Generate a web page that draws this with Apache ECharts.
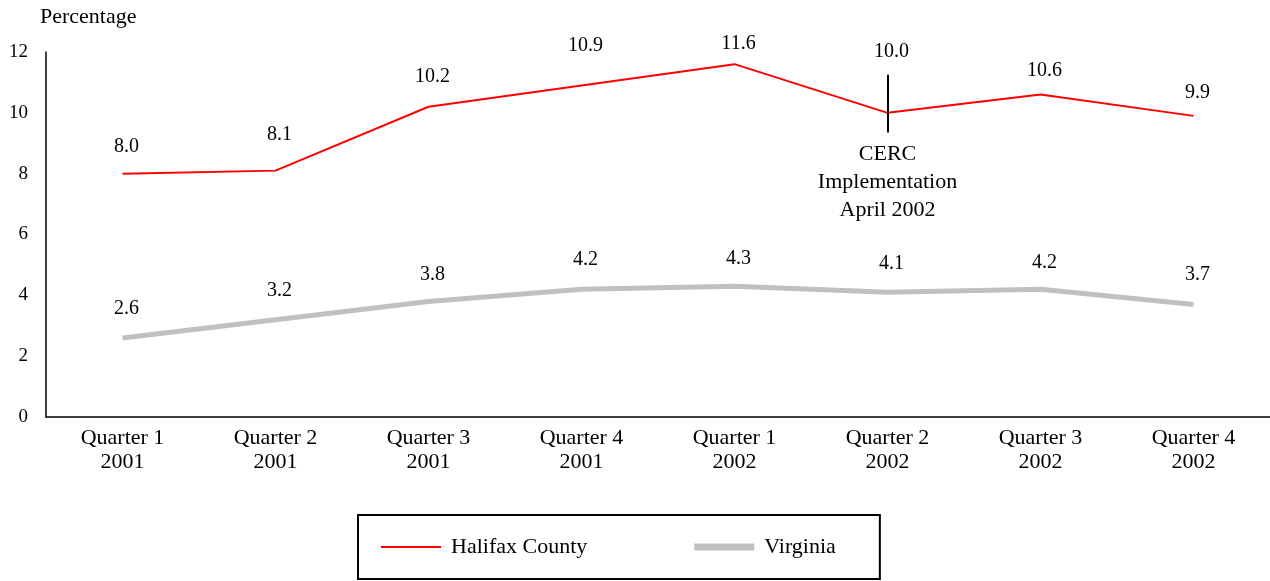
<!DOCTYPE html>
<html><head><meta charset="utf-8">
<script src="https://cdn.jsdelivr.net/npm/echarts@6/dist/echarts.min.js"></script>
<style>html,body{margin:0;padding:0;background:#fff}#c{width:1270px;height:581px}</style>
</head><body><div id="c"></div>
<script>
const categories = ['Quarter 1\n2001','Quarter 2\n2001','Quarter 3\n2001','Quarter 4\n2001','Quarter 1\n2002','Quarter 2\n2002','Quarter 3\n2002','Quarter 4\n2002'];
const halifax = [8.0, 8.1, 10.2, 10.9, 11.6, 10.0, 10.6, 9.9];
const virginia = [2.6, 3.2, 3.8, 4.2, 4.3, 4.1, 4.2, 3.7];
const yTicks = {min: 0, max: 12, interval: 2};
const cercIndex = 5;
const cercRange = [11.25, 9.35];
const cercText = 'CERC\nImplementation\nApril 2002';

// label placement (style only)
const halifaxGap = [17, 26, 20, 30, 10, 51, 14, 13];
const virginiaGap = [19, 19, 17, 19, 17, 19, 16, 20];

const F = '"Liberation Serif","Times New Roman",serif';
const chart = echarts.init(document.getElementById('c'));
const labelBase = {show: true, position: 'top', color: '#000', fontFamily: F, fontSize: 20, formatter: p => p.value.toFixed(1), offset: [4, 0]};
const withGaps = (arr, gaps) => arr.map((v, i) => ({value: v, label: {distance: gaps[i]}}));
chart.setOption({
  animation: false,
  grid: {left: 46, right: 0, top: 52, bottom: 164, outerBoundsMode: 'none', containLabel: false},
  xAxis: {
    type: 'category', data: categories, boundaryGap: true,
    axisLine: {lineStyle: {color: '#000', width: 1.5}},
    axisTick: {show: false},
    axisLabel: {color: '#000', fontFamily: F, fontSize: 22, lineHeight: 24, margin: 9, interval: 0}
  },
  yAxis: {
    type: 'value', min: yTicks.min, max: yTicks.max, interval: yTicks.interval,
    name: 'Percentage', nameLocation: 'end', nameGap: 24,
    nameTextStyle: {color: '#000', fontFamily: F, fontSize: 22, align: 'left', padding: [0, 0, 0, -6]},
    axisLine: {show: true, lineStyle: {color: '#000', width: 1.5}},
    axisTick: {show: false},
    splitLine: {show: false},
    axisLabel: {color: '#000', fontFamily: F, fontSize: 19, margin: 18}
  },
  legend: {
    left: 358, bottom: 2,
    borderColor: '#000', borderWidth: 2,
    padding: [21, 44, 21, 23],
    itemGap: 107, itemWidth: 60, itemHeight: 10,
    textStyle: {color: '#000', fontFamily: F, fontSize: 22, padding: [0, 0, 0, 5]},
    data: [
      {name: 'Halifax County', icon: 'path://M0,0H60V2H0Z'},
      {name: 'Virginia', icon: 'path://M0,0H60V7H0Z'}
    ]
  },
  series: [
    {
      name: 'Halifax County', type: 'line', data: withGaps(halifax, halifaxGap),
      symbol: 'circle', symbolSize: 0.01, showSymbol: true,
      lineStyle: {color: '#ff0000', width: 2}, itemStyle: {color: '#ff0000'},
      label: labelBase,
      markLine: {
        silent: true, symbol: 'none',
        lineStyle: {color: '#000', width: 2, type: 'solid'},
        label: {show: true, position: 'end', formatter: cercText, color: '#000', fontFamily: F, fontSize: 22, lineHeight: 28, distance: 8},
        data: [[{coord: [cercIndex, cercRange[0]]}, {coord: [cercIndex, cercRange[1]]}]]
      }
    },
    {
      name: 'Virginia', type: 'line', data: withGaps(virginia, virginiaGap),
      symbol: 'circle', symbolSize: 0.01, showSymbol: true,
      lineStyle: {color: '#c0c0c0', width: 5}, itemStyle: {color: '#c0c0c0'},
      label: labelBase
    }
  ]
});
</script></body></html>
